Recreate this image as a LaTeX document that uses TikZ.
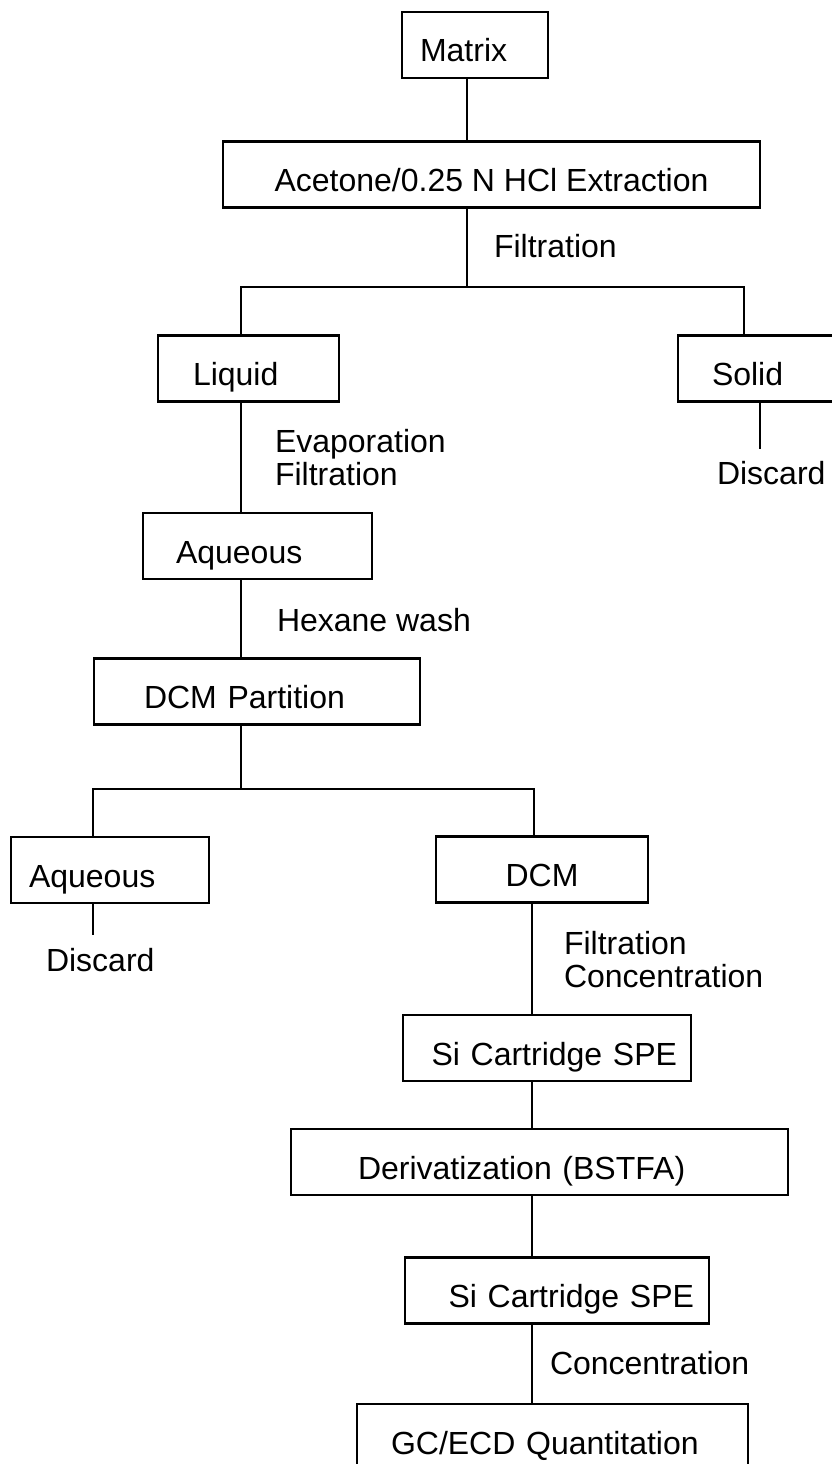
\documentclass[tikz,border=0pt]{standalone}
\usepackage{fontspec}
\setmainfont{Liberation Sans}
\usepackage{tikz}

\begin{document}
\begin{tikzpicture}[x=1pt, y=-1pt, line width=2pt,
    every node/.style={font=\fontsize{32}{33}\selectfont},
    box/.style 2 args={draw, line width=2.8pt, minimum height=66pt, inner ysep=0pt,
      text height=36pt, text depth=2pt, inner xsep=#1, text width=#2, align=left},
    cbox/.style={draw, line width=2.8pt, minimum height=66pt, inner ysep=0pt,
      text height=36pt, text depth=2pt, minimum width=#1},
    note/.style={anchor=north west, inner sep=0pt, align=left}]
    \useasboundingbox (0,0) rectangle (831,1464);
    % boxes
    \node[box={18pt}{110pt}] (matrix) at (475,45) {Matrix};
    \node[cbox=537pt] (acetone) at (491.5,174.5) {Acetone/0.25 N HCl Extraction};
    \node[box={35pt}{111pt}] (liquid) at (248.5,368.5) {Liquid};
    \node[box={34pt}{104pt}] (solid) at (764,368.5) {Solid};
    \node[box={33pt}{163pt}] (aqua) at (257.5,546) {Aqueous};
    \node[box={50pt}{226pt}] (part) at (257,691.5) {DCM Partition};
    \node[box={18pt}{162pt}] (aqub) at (110,870) {Aqueous};
    \node[cbox=212pt] (dcm) at (542,869.5) {DCM};
    \node[box={14pt}{260pt}, align=right] (si1) at (547,1048) {Si Cartridge SPE};
    \node[box={67pt}{363pt}] (deriv) at (539.5,1162) {Derivatization (BSTFA)};
    \node[box={15pt}{274pt}, align=right] (si2) at (557,1290.5) {Si Cartridge SPE};
    \node[box={34pt}{323pt}] (gc) at (552.5,1437) {GC/ECD Quantitation};
    % step labels
    \node[note] (filt) at (493,233) {Filtration};
    \node[note] (evap) at (274,428) {Evaporation\\Filtration};
    \node[note] (hex) at (276,607) {Hexane wash};
    \node[note] (disc1) at (716,460) {Discard};
    \node[note] (disc2) at (45,947) {Discard};
    \node[note] (fico) at (563,930) {Filtration\\Concentration};
    \node[note] (conc) at (549,1350) {Concentration};
    % joints
    \coordinate (trunk) at (467,287);
    \coordinate (forkL) at (241,287);
    \coordinate (forkR) at (744,287);
    \coordinate (sdis) at (760,449);
    \coordinate (split) at (241,789);
    \coordinate (splitL) at (93,789);
    \coordinate (splitR) at (534,789);
    \coordinate (spine) at (532,1000);
    % connectors
    \draw (matrix.south -| trunk) -- (acetone.north -| trunk);
    \draw (acetone.south -| trunk) -- (trunk);
    \draw (liquid.north -| forkL) -- (forkL) -- (forkR) -- (solid.north -| forkR);
    \draw (solid.south -| sdis) -- (sdis);
    \draw (liquid.south -| forkL) -- (aqua.north -| forkL);
    \draw (aqua.south -| forkL) -- (part.north -| forkL);
    \draw (part.south -| split) -- (split);
    \draw (aqub.north -| splitL) -- (splitL) -- (splitR) -- (dcm.north -| splitR);
    \draw[shorten >=12pt] (aqub.south -| splitL) -- (disc2.north -| splitL);
    \draw (dcm.south -| spine) -- (si1.north -| spine);
    \draw (si1.south -| spine) -- (deriv.north -| spine);
    \draw (deriv.south -| spine) -- (si2.north -| spine);
    \draw (si2.south -| spine) -- (gc.north -| spine);
\end{tikzpicture}
\end{document}
